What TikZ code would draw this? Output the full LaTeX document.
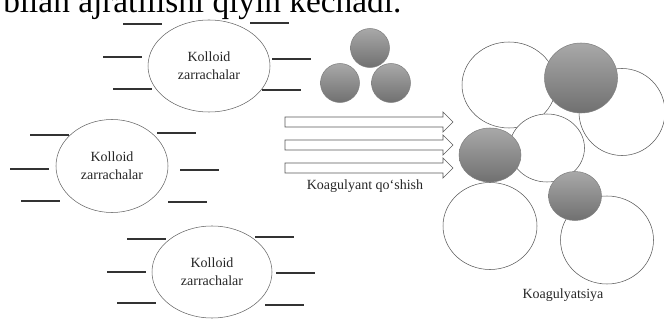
\documentclass[tikz,border=0pt]{standalone}
\usepackage{fontspec}
\setmainfont{Liberation Serif}
\usetikzlibrary{shapes.geometric,positioning}

\definecolor{blobtop}{gray}{0.66}
\definecolor{blobbot}{gray}{0.44}
\newcommand{\lblfont}{\fontsize{10.5}{13.5}\selectfont}

\tikzset{
    colloid/.style={draw=black!60, ellipse, fill=white, inner sep=0pt, align=center, font=\lblfont, text=black!85},
    bubble/.style={draw=black!65, ellipse, fill=white, inner sep=0pt},
    blob/.style={draw=black!50, ellipse, top color=blobtop, bottom color=blobbot, inner sep=0pt},
    tick/.style={line width=0.9pt, black!80},
    blockarrow/.style={draw=black!65, fill=white, line width=0.5pt}
}

\begin{document}
\begin{tikzpicture}[x=0.75pt, y=-0.75pt]
                        \useasboundingbox (0,0) rectangle (664,320);

                        % cut line of the page text
                        \node[anchor=base west, inner sep=0pt, font=\fontsize{25}{30}\selectfont] (pagetext) at (3,12.5) {bilan ajratilishi qiyin kechadi.};

                        % colloid particles
                        \node[colloid, minimum width=91.5pt, minimum height=69pt] (col1) at (209,66) {Kolloid\\zarrachalar};
                        \node[colloid, minimum width=84pt, minimum height=69.75pt] (col2) at (112,166) {Kolloid\\zarrachalar};
                        \node[colloid, minimum width=90pt, minimum height=69pt] (col3) at (212,272) {Kolloid\\zarrachalar};

                        \foreach \a/\b in {123/24, 103/57, 113/89, 250/23, 272/59, 262/90,
                                           30/135, 10/169, 21/201, 157/133, 180/170, 168/202,
                                           127/239, 107/272, 117/303, 255/237, 276/273, 265/305}
                            \draw[tick] (\a,\b) -- ++(39,0);

                        % coagulant
                        \node[blob, minimum width=29.25pt, minimum height=29.25pt] (ag1) at (370,48) {};
                        \node[blob, minimum width=29.25pt, minimum height=29.25pt] (ag2) at (340,83) {};
                        \node[blob, minimum width=29.25pt, minimum height=29.25pt] (ag3) at (391,83) {};

                        \foreach \y in {122,145,168}
                            \draw[blockarrow] (285,\y-5) -- (443,\y-5) -- (443,\y-10) -- (453,\y)
                                -- (443,\y+10) -- (443,\y+5) -- (285,\y+5) -- cycle;
                        \node[font=\lblfont, text=black!85] (addlbl) at (365,186) {Koagulyant qo‘shish};

                        % coagulation
                        \node[bubble, minimum width=70.5pt, minimum height=64.5pt] (w1) at (509,85) {};
                        \node[bubble, minimum width=64.5pt, minimum height=65.25pt] (w2) at (622,112) {};
                        \node[blob, minimum width=54.75pt, minimum height=52.5pt] (d1) at (581,78) {};
                        \node[bubble, minimum width=56.25pt, minimum height=51pt] (w3) at (547,148) {};
                        \node[bubble, minimum width=70.5pt, minimum height=65.25pt] (w4) at (490,226) {};
                        \node[bubble, minimum width=69.75pt, minimum height=66pt] (w5) at (607,240) {};
                        \node[blob, minimum width=46.5pt, minimum height=40.5pt] (d2) at (490,155) {};
                        \node[blob, minimum width=39.75pt, minimum height=36.75pt] (d3) at (575,196) {};
                        \node[font=\lblfont, text=black!85] (coaglbl) at (563,295) {Koagulyatsiya};
                    \end{tikzpicture}
\end{document}
